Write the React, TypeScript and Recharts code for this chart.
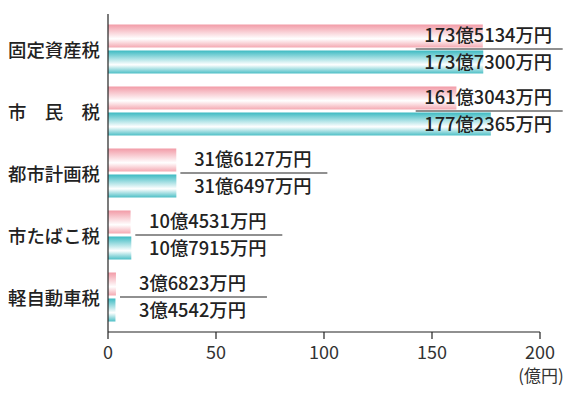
import React from "react";
import { BarChart, Bar, XAxis, YAxis, LabelList } from "recharts";

// categories
const categories = ["固定資産税", "市　民　税", "都市計画税", "市たばこ税", "軽自動車税"];
// values in 万円 (pink = upper bar, teal = lower bar)
const pinkValues = [1735134, 1613043, 316127, 104531, 36823];
const tealValues = [1737300, 1772365, 316497, 107915, 34542];
// x axis ticks (億円)
const xTicks = [0, 50, 100, 150, 200];
const unitLabel = "(億円)";

const data = categories.map((name, i) => ({
  name,
  pink: pinkValues[i] / 10000,
  teal: tealValues[i] / 10000,
}));

const fmt = (n: number) => `${Math.floor(n / 10000)}億${n % 10000}万円`;

const FONT = "'Noto Sans CJK JP', 'Noto Sans', sans-serif";
const LABEL_LINE = 147;
const LABEL_MAX_END_UNITS = 210.5; // label line never extends beyond this x value

const ValueLabel = (props: any) => {
  const { x, y, width, index } = props;
  const i = index as number;
  const tv = data[i].teal;
  const pv = data[i].pink;
  const ppu = width / tv;
  const maxEnd = x + ppu * Math.max(tv, pv);
  const limitEnd = x + ppu * LABEL_MAX_END_UNITS;
  const start = Math.min(maxEnd + 4, limitEnd - LABEL_LINE);
  const ly = y - 1.5;
  const cx = start + LABEL_LINE / 2 - 1;
  return (
    <g>
      <line x1={start} x2={start + LABEL_LINE} y1={ly} y2={ly} stroke="#222" strokeWidth={1.2} />
      <text x={cx} y={ly - 7} textAnchor="middle" fontSize={18.3} fill="#222" fontFamily={FONT} fontWeight={500}>
        {fmt(pinkValues[i])}
      </text>
      <text x={cx} y={ly + 19.5} textAnchor="middle" fontSize={18.3} fill="#222" fontFamily={FONT} fontWeight={500}>
        {fmt(tealValues[i])}
      </text>
    </g>
  );
};

const XTick = (props: any) => {
  const { x, y, payload } = props;
  const isLast = payload.value === xTicks[xTicks.length - 1];
  return (
    <g>
      <text x={x} y={y + 18} textAnchor="middle" fontSize={18} fill="#333" fontFamily={FONT}>
        {payload.value}
      </text>
      {isLast && (
        <text x={x + 1} y={y + 41} textAnchor="middle" fontSize={17} fill="#333" fontFamily={FONT}>
          {unitLabel}
        </text>
      )}
    </g>
  );
};

const YTick = (props: any) => {
  const { y, payload } = props;
  return (
    <text x={8} y={y} textAnchor="start" dominantBaseline="central" fontSize={18.4} fill="#222" fontFamily={FONT} fontWeight={500}>
      {payload.value}
    </text>
  );
};

export default function App() {
  return (
    <div style={{ position: "absolute", left: 0, top: 0, width: 581, height: 393, background: "#fff" }}>
      <BarChart
        width={581}
        height={393}
        data={data}
        layout="vertical"
        margin={{ top: 14, right: 41, bottom: 21, left: 8 }}
        barSize={23}
        barGap={3}
      >
        <defs>
          <linearGradient id="gPink" x1="0" y1="0" x2="0" y2="1">
            <stop offset="0" stopColor="#f29ba7" />
            <stop offset="0.62" stopColor="#ffffff" />
            <stop offset="1" stopColor="#f4a9b2" />
          </linearGradient>
          <linearGradient id="gTeal" x1="0" y1="0" x2="0" y2="1">
            <stop offset="0" stopColor="#3cbac2" />
            <stop offset="0.62" stopColor="#ffffff" />
            <stop offset="1" stopColor="#4dbfc6" />
          </linearGradient>
        </defs>
        <XAxis
          type="number"
          domain={[0, 200]}
          ticks={xTicks}
          axisLine={{ stroke: "#222", strokeWidth: 1.2 }}
          tickLine={{ stroke: "#222", strokeWidth: 1.2 }}
          tickSize={7}
          height={40}
          tick={<XTick />}
          interval={0}
        />
        <YAxis
          type="category"
          dataKey="name"
          width={100}
          axisLine={{ stroke: "#222", strokeWidth: 1.2 }}
          tickLine={false}
          tick={<YTick />}
          padding={{ top: 3.5, bottom: 4.5 }}
          interval={0}
        />
        <Bar dataKey="pink" fill="url(#gPink)" isAnimationActive={false} />
        <Bar dataKey="teal" fill="url(#gTeal)" isAnimationActive={false}>
          <LabelList dataKey="teal" content={<ValueLabel />} />
        </Bar>
      </BarChart>
    </div>
  );
}
